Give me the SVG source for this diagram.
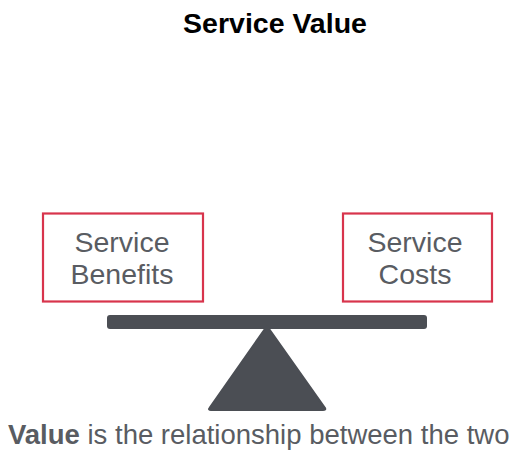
<svg xmlns="http://www.w3.org/2000/svg" width="514" height="452" viewBox="0 0 514 452">
  <style>
    .title { font-family: "Liberation Sans", Arial, sans-serif; font-weight: bold; font-size: 28.5px; fill: #000; }
    .box { fill: #fff; stroke: #d8344c; stroke-width: 2.2; }
    .label { font-family: "Liberation Sans", Arial, sans-serif; font-size: 28.5px; fill: #595c62; text-anchor: middle; }
    .caption { font-family: "Liberation Sans", Arial, sans-serif; font-size: 27.5px; fill: #595c62; }
    .scale { fill: #4b4e54; }
  </style>
  <rect width="514" height="452" fill="#fff"/>

  <text class="title" x="275" y="33" text-anchor="middle">Service Value</text>

  <g id="benefits">
    <rect class="box" x="43" y="213.5" width="160" height="88"/>
    <text class="label" x="122" y="252">Service</text>
    <text class="label" x="122" y="284">Benefits</text>
  </g>

  <g id="costs">
    <rect class="box" x="343" y="213.5" width="149" height="88"/>
    <text class="label" x="415" y="252">Service</text>
    <text class="label" x="415" y="284">Costs</text>
  </g>

  <g id="balance">
    <rect class="scale" x="107" y="315" width="320" height="14" rx="3"/>
    <path class="scale" d="M267 326 L325 408 Q326 410 323 410 L211 410 Q208 410 209.5 408 Z" stroke="#4b4e54" stroke-width="2" stroke-linejoin="round"/>
  </g>

  <text class="caption" x="8" y="444"><tspan font-weight="bold">Value</tspan> is the relationship between the two</text>
</svg>
